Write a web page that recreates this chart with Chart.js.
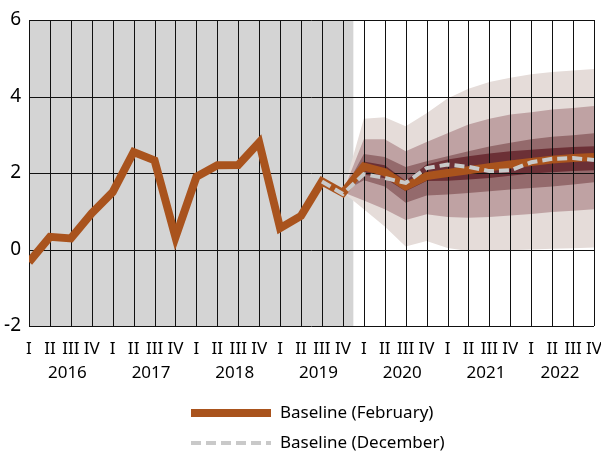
<!DOCTYPE html>
<html>
<head>
<meta charset="utf-8">
<script src="https://cdn.jsdelivr.net/npm/chart.js@4.4.0/dist/chart.umd.min.js"></script>
<style>
  html, body { margin: 0; padding: 0; background: #fff; }
  #wrap { width: 601px; height: 453px; }
</style>
</head>
<body>
<div id="wrap"><canvas id="chart"></canvas></div>
<script>
const years = ['2016', '2017', '2018', '2019', '2020', '2021', '2022'];
const quarterNames = ['I', 'II', 'III', 'IV'];
const yTicks = [-2, 0, 2, 4, 6];

// last observed quarter (2019 Q4), the shading runs to half a step after it
const historyEnd = 15;

const baselineFeb = [
  -0.33, 0.33, 0.29, 0.95, 1.5, 2.55, 2.33, 0.32,
  1.9, 2.2, 2.21, 2.8, 0.56, 0.88, 1.78, 1.48,
  2.17, 2.02, 1.65, 1.92, 2.0, 2.07, 2.15, 2.22, 2.29, 2.35, 2.39, 2.42
];
const baselineDec = [
  null, null, null, null, null, null, null, null,
  null, null, null, null, null, null, 1.78, 1.45,
  1.97, 1.87, 1.74, 2.13, 2.22, 2.16, 2.05, 2.07, 2.28, 2.37, 2.39, 2.34
];

// fan bands, 2019 Q4 .. 2022 Q4
const outerUpper = [1.5, 3.42, 3.46, 3.22, 3.56, 3.95, 4.2, 4.38, 4.49, 4.58, 4.64, 4.68, 4.72];
const outerLower = [1.5, 1.05, 0.6, 0.08, 0.22, 0.04, -0.04, -0.04, -0.02, 0.0, 0.02, 0.03, 0.05];
const midUpper   = [1.5, 2.88, 2.88, 2.57, 2.81, 3.04, 3.27, 3.42, 3.53, 3.59, 3.66, 3.7, 3.75];
const midLower   = [1.5, 1.28, 1.05, 0.77, 0.92, 0.85, 0.83, 0.85, 0.89, 0.93, 0.98, 1.01, 1.05];
const thirdUpper = [1.5, 2.5, 2.42, 2.16, 2.31, 2.44, 2.57, 2.69, 2.79, 2.88, 2.95, 2.99, 3.04];
const thirdLower = [1.5, 1.81, 1.65, 1.22, 1.41, 1.44, 1.48, 1.52, 1.57, 1.61, 1.65, 1.7, 1.76];
const innerUpper = [1.5, 2.3, 2.2, 1.8, 2.22, 2.35, 2.44, 2.51, 2.57, 2.61, 2.65, 2.68, 2.7];
const innerLower = [1.5, 1.96, 1.86, 1.52, 1.79, 1.8, 1.83, 1.87, 1.93, 1.99, 2.02, 2.05, 2.07];

const FONT = "'Noto Sans', sans-serif";
const pad = arr => Array(historyEnd).fill(null).concat(arr);
const toPoints = arr => arr.map((v, i) => ({ x: i, y: v }));

function band(upper, lower, color) {
  return [
    { data: toPoints(pad(upper)), fill: '+1', backgroundColor: color, borderWidth: 0, pointRadius: 0 },
    { data: toPoints(pad(lower)), fill: false, borderWidth: 0, pointRadius: 0 }
  ];
}

const lineFeb = {
  label: 'Baseline (February)',
  data: toPoints(baselineFeb),
  borderColor: '#a9531d',
  borderWidth: 8,
  pointRadius: 0,
  fill: false,
  clip: 0
};
const lineDec = {
  label: 'Baseline (December)',
  data: toPoints(baselineDec),
  borderColor: '#c9c9c9',
  borderWidth: 4,
  borderDash: [10, 5],
  pointRadius: 0,
  fill: false,
  clip: 0
};

// draw order is reversed: the last dataset ends up at the bottom
const datasets = [lineDec, lineFeb]
  .concat(band(innerUpper, innerLower, '#6c3036'))
  .concat(band(thirdUpper, thirdLower, '#946a6c'))
  .concat(band(midUpper, midLower, '#bfa2a3'))
  .concat(band(outerUpper, outerLower, '#e5dcd9'));

const decor = {
  id: 'decor',
  beforeDatasetsDraw(chart) {
    const { ctx, chartArea: a, scales: { x } } = chart;
    const xEnd = x.getPixelForValue(historyEnd + 0.5);
    ctx.save();
    ctx.fillStyle = '#d4d4d4';
    ctx.fillRect(a.left, a.top, xEnd - a.left, a.bottom - a.top);
    ctx.restore();
  },
  // grid sits over the fan but under the two baseline lines
  beforeDatasetDraw(chart, args) {
    if (args.index !== 1) return;
    const { ctx, chartArea: a, scales: { x, y } } = chart;
    ctx.save();
    ctx.strokeStyle = '#111';
    ctx.lineWidth = 1;
    ctx.beginPath();
    x.ticks.forEach(t => {
      const px = Math.round(x.getPixelForValue(t.value)) + 0.5;
      ctx.moveTo(px, a.top);
      ctx.lineTo(px, a.bottom);
    });
    y.ticks.forEach(t => {
      const py = Math.round(y.getPixelForValue(t.value)) + 0.5;
      ctx.moveTo(a.left, py);
      ctx.lineTo(a.right, py);
    });
    ctx.stroke();
    ctx.restore();
  },
  afterDraw(chart) {
    const { ctx, chartArea: a, scales: { x } } = chart;
    ctx.save();
    ctx.fillStyle = '#000';
    ctx.font = '17px ' + FONT;
    ctx.textAlign = 'center';
    ctx.textBaseline = 'middle';
    years.forEach((yr, i) => {
      let cx = x.getPixelForValue(i * 4 + 1.5) + 7;
      cx = Math.min(cx, a.right - 34);
      ctx.fillText(yr, cx, a.bottom + 47);
    });

    // legend, one entry per row
    const entries = [lineFeb, lineDec];
    ctx.textAlign = 'left';
    entries.forEach((ds, i) => {
      const ly = a.bottom + 87 + i * 30;
      ctx.beginPath();
      ctx.strokeStyle = ds.borderColor;
      ctx.lineWidth = ds.borderWidth;
      ctx.setLineDash(ds.borderDash || []);
      ctx.moveTo(191, ly);
      ctx.lineTo(271, ly);
      ctx.stroke();
      ctx.setLineDash([]);
      ctx.fillText(ds.label, 280, ly);
    });
    ctx.restore();
  }
};

new Chart(document.getElementById('chart'), {
  type: 'line',
  data: { datasets },
  options: {
    responsive: true,
    maintainAspectRatio: false,
    animation: false,
    layout: { padding: { top: 20, right: 7, left: 0, bottom: 0 } },
    plugins: {
      legend: { display: false },
      tooltip: { enabled: false },
      filler: { propagate: false }
    },
    scales: {
      x: {
        type: 'linear',
        min: 0,
        max: baselineFeb.length - 1,
        grid: { display: false, drawTicks: false },
        border: { display: false },
        afterFit: s => { s.height = 127; s.paddingLeft = 0; s.paddingRight = 0; },
        ticks: {
          stepSize: 1,
          autoSkip: false,
          maxRotation: 0,
          padding: 13,
          color: '#000',
          font: { family: FONT, size: 17 },
          callback: v => quarterNames[v % 4]
        }
      },
      y: {
        min: yTicks[0],
        max: yTicks[yTicks.length - 1],
        grid: { display: false, drawTicks: false },
        border: { display: false },
        afterFit: s => { s.width = 29; },
        ticks: {
          stepSize: 2,
          padding: 8,
          color: '#000',
          font: { family: FONT, size: 19 }
        }
      }
    }
  },
  plugins: [decor]
});
</script>
</body>
</html>
